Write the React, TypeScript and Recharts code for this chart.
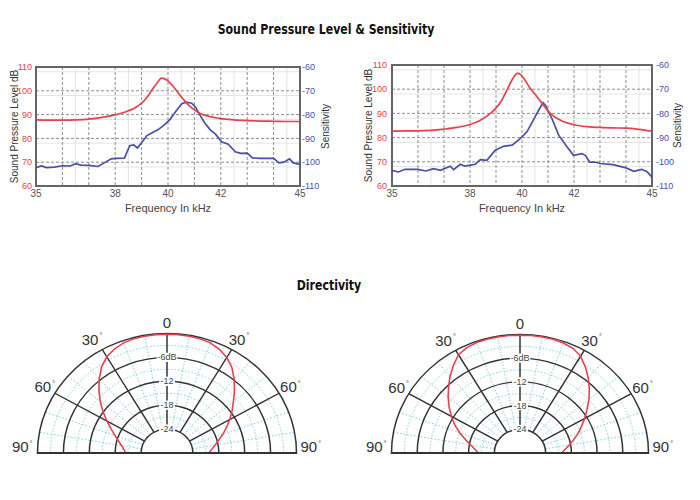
import React from 'react';
import {
  LineChart, Line, XAxis, YAxis, CartesianGrid, ReferenceArea,
  RadarChart, Radar, PolarGrid, PolarAngleAxis, PolarRadiusAxis,
} from 'recharts';

// ---------- Sound pressure level / sensitivity ----------
const freqTicks = [35, 38, 40, 42, 45];
const splTicks = [60, 70, 80, 90, 100, 110];
const sensTicks = [-110, -100, -90, -80, -70, -60];
const majorFreqGrid = [36, 37, 38, 39, 40, 41, 42, 43, 44];
const minorFreqGrid = [35.5, 36.5, 37.5, 38.5, 39.5, 40.5, 41.5, 42.5, 43.5, 44.5];
const majorSplGrid = [70, 80, 90, 100];
const minorSplGrid = [62, 64, 66, 68, 72, 74, 76, 78, 82, 84, 86, 88, 92, 94, 96, 98, 102, 104, 106, 108];

const spl1: [number, number][] = [
  [35, 87.8], [35.5, 87.7], [36, 87.7], [36.5, 87.8], [37, 88.1], [37.5, 88.8], [38, 89.9],
  [38.5, 91.6], [38.8, 93.2], [39, 94.8], [39.2, 97.2], [39.4, 100.5], [39.6, 103.5],
  [39.75, 105.3], [39.9, 104.9], [40, 104.2], [40.2, 101.8], [40.4, 99.0], [40.6, 96.2],
  [40.8, 93.8], [41, 92.0], [41.2, 90.6], [41.5, 89.4], [41.8, 88.7], [42, 88.3], [42.5, 87.8],
  [43, 87.5], [43.5, 87.3], [44, 87.2], [44.5, 87.1], [45, 87.1],
];
const sens1: [number, number][] = [
  [35, -102.3], [35.2, -101.6], [35.4, -102.3], [35.7, -102.1], [36, -101.5], [36.3, -101.6],
  [36.5, -100.6], [36.7, -101.2], [37, -101.3], [37.35, -101.8], [37.55, -100.5], [37.85, -98.6],
  [38, -98.4], [38.35, -98.3], [38.55, -93.1], [38.7, -92.7], [38.84, -94.0], [39, -91.8],
  [39.2, -88.8], [39.4, -87.6], [39.63, -86.3], [39.85, -84.4], [40.08, -82.0], [40.3, -78.6],
  [40.52, -75.4], [40.7, -74.8], [40.9, -75.2], [41.05, -77.0], [41.2, -80.0], [41.4, -83.6],
  [41.6, -86.4], [41.8, -88.2], [42.03, -91.4], [42.28, -92.4], [42.55, -95.6], [42.75, -96.3],
  [43, -96.2], [43.2, -98.2], [43.5, -98.4], [44, -98.4], [44.2, -100.3], [44.4, -100.0],
  [44.6, -98.6], [44.75, -100.3], [45, -100.9],
];
const spl2: [number, number][] = [
  [35, 82.7], [35.5, 82.8], [36, 82.8], [36.5, 83.0], [37, 83.5], [37.5, 84.2], [38, 85.4],
  [38.4, 87.2], [38.7, 89.3], [39, 92.2], [39.2, 95.0], [39.4, 99.2], [39.6, 103.5],
  [39.75, 106.0], [39.85, 106.5], [39.95, 106.0], [40.1, 104.0], [40.3, 100.6], [40.6, 96.6],
  [40.8, 93.8], [41, 91.0], [41.2, 89.0], [41.5, 87.1], [41.8, 85.9], [42.1, 85.1], [42.6, 84.4],
  [43, 84.2], [43.5, 84.0], [44, 83.9], [44.5, 83.4], [45, 82.7],
];
const sens2: [number, number][] = [
  [35, -103.5], [35.25, -104.2], [35.5, -103.1], [36, -103.1], [36.3, -103.8], [36.6, -102.8],
  [36.86, -103.5], [37.24, -101.8], [37.37, -103.2], [37.63, -101.0], [37.8, -101.8],
  [38.01, -101.4], [38.2, -101.0], [38.4, -99.1], [38.65, -99.4], [38.97, -95.2], [39.29, -93.6],
  [39.62, -93.1], [39.93, -90.4], [40.19, -87.6], [40.45, -82.5], [40.64, -78.7], [40.81, -75.6],
  [40.9, -76.6], [41.15, -82.1], [41.41, -89.0], [41.73, -93.8], [41.98, -97.3], [42.31, -96.6],
  [42.45, -97.5], [42.6, -100.1], [42.8, -100.1], [43, -100.7], [43.5, -101.2], [44, -102.5],
  [44.3, -103.9], [44.6, -103.1], [44.8, -104.0], [45, -106.3],
];

// ---------- Directivity ----------
const dirAngles = [-90, -85, -80, -75, -70, -65, -60, -55, -50, -45, -40, -35, -30, -25, -20, -15, -10, -5, 0,
  5, 10, 15, 20, 25, 30, 35, 40, 45, 50, 55, 60, 65, 70, 75, 80, 85, 90];
const dir1Db = [-20.4, -20.0, -19.3, -18.4, -17.2, -15.7, -13.9, -11.9, -9.8, -7.7, -5.6, -3.6, -2.1, -1.2,
  -0.6, -0.35, -0.25, -0.2, -0.2, -0.2, -0.25, -0.35, -0.6, -1.3, -2.3, -3.8, -5.8, -7.9, -9.9, -11.6,
  -13.2, -14.8, -16.2, -17.6, -18.7, -19.6, -20.3];
const dir2Db = [-20.3, -19.5, -18.3, -16.8, -15.0, -13.2, -11.5, -9.8, -8.1, -6.4, -4.6, -2.9, -1.3, -0.6,
  -0.3, -0.2, -0.2, -0.2, -0.2, -0.2, -0.2, -0.25, -0.4, -0.8, -1.7, -3.4, -5.2, -7.1, -9.0, -10.9,
  -12.6, -14.2, -15.6, -17.0, -18.3, -19.4, -20.3];
const angleTicks = [-90, -60, -30, 0, 30, 60, 90];
const minorAngleTicks = [-80, -70, -50, -40, -20, -10, 10, 20, 40, 50, 70, 80];
const ringTicks = [-24, -18, -12, -6, 0];
const minorRingTicks = [-21, -15, -9, -3];
const ringLabels: Record<number, string> = { [-24]: '-24', [-18]: '-18', [-12]: '-12', [-6]: '-6dB' };

const RED = '#e8404f';
const BLUE = '#4a4fa6';
const FONT = "'Liberation Sans', Arial, sans-serif";

type SplProps = {
  left: number; top: number; width: number; marginTop: number; plotH: number;
  leftW: number; rightW: number; leftTick: number; rightTick: number;
  leftLabelOff: number; rightLabelOff: number;
  spl: [number, number][]; sens: [number, number][];
};

function SplChart(p: SplProps) {
  const splData = p.spl.map(([f, v]) => ({ f, v }));
  const sensData = p.sens.map(([f, v]) => ({ f, v }));
  const xAxisH = 26;
  const height = p.marginTop + p.plotH + xAxisH + 2;
  return (
    <div style={{ position: 'absolute', left: p.left, top: p.top, fontFamily: FONT }}>
      <LineChart width={p.width} height={height} margin={{ top: p.marginTop, right: 0, left: 0, bottom: 2 }}>
        <CartesianGrid yAxisId="spl" horizontalValues={minorSplGrid} verticalValues={minorFreqGrid}
          stroke="#e4e4e4" strokeWidth={1} fill="none" />
        <CartesianGrid yAxisId="spl" horizontalValues={majorSplGrid} verticalValues={majorFreqGrid}
          stroke="#8f8f8f" strokeDasharray="3 2" strokeWidth={1} fill="none" />
        <XAxis type="number" dataKey="f" domain={[35, 45]} ticks={freqTicks} allowDataOverflow
          tickLine={false} axisLine={false} tickSize={3} tickMargin={1} height={xAxisH}
          tick={{ fontSize: 10, fill: '#555' }}
          label={{ value: 'Frequency In kHz', position: 'insideBottom', offset: 0, fontSize: 11, fill: '#444' }} />
        <YAxis yAxisId="spl" type="number" domain={[60, 110]} ticks={splTicks} allowDataOverflow
          width={p.leftW} tickLine={false} axisLine={false} tickSize={p.leftTick} tickMargin={1}
          tick={{ fontSize: 9, fill: RED }}
          label={{ value: 'Sound Pressure Level dB', angle: -90, position: 'insideLeft', offset: p.leftLabelOff,
            fontSize: 10, fill: '#333', style: { textAnchor: 'middle' } }} />
        <YAxis yAxisId="sens" orientation="right" type="number" domain={[-110, -60]} ticks={sensTicks}
          allowDataOverflow width={p.rightW} tickLine={false} axisLine={false} tickSize={p.rightTick} tickMargin={1}
          tick={{ fontSize: 9, fill: BLUE }}
          label={{ value: 'Sensitivity', angle: -90, position: 'insideRight', offset: p.rightLabelOff,
            fontSize: 10, fill: '#333', style: { textAnchor: 'middle' } }} />
        <ReferenceArea yAxisId="spl" x1={35} x2={45} y1={60} y2={110} fill="none" fillOpacity={0}
          stroke="#666" strokeWidth={2} />
        <Line yAxisId="sens" data={sensData} dataKey="v" type="linear" stroke={BLUE} strokeWidth={1.7}
          dot={false} isAnimationActive={false} />
        <Line yAxisId="spl" data={splData} dataKey="v" type="monotone" stroke={RED} strokeWidth={1.7}
          dot={false} isAnimationActive={false} />
      </LineChart>
    </div>
  );
}

// label offsets (pre-scale px) relative to the tick anchor
const renderAngleTick = (props: any) => {
  const { x, y, payload } = props;
  const v = payload.value as number;
  const abs = Math.abs(v);
  let anchor: 'start' | 'end' | 'middle' = 'middle';
  let dx = 0;
  let dy = 0;
  if (v === 0) { dy = 2; }
  else if (abs === 30) { anchor = v < 0 ? 'end' : 'start'; dx = v < 0 ? 4 : -7; dy = 2; }
  else if (abs === 60) { anchor = v < 0 ? 'end' : 'start'; dx = v < 0 ? 7 : -6; dy = 3; }
  else { anchor = v < 0 ? 'end' : 'start'; dx = v < 0 ? 3 : -4; dy = -1; }
  return (
    <text x={x + dx} y={y + dy} textAnchor={anchor} fontSize={15} fill="#333" fontFamily={FONT}>
      {abs}
      {v !== 0 ? <tspan fontSize={7} dx={1} dy={-7}>°</tspan> : null}
    </text>
  );
};

const renderRingTick = (props: any) => {
  const { x, y, payload } = props;
  const label = ringLabels[payload.value as number];
  if (!label) return <g />;
  const w = label.length * 4.6 + 2;
  return (
    <g>
      <rect x={x - w / 2} y={y - 5} width={w} height={10} fill="#fff" />
      <text x={x} y={y + 3.3} textAnchor="middle" fontSize={9} fill="#444" fontFamily={FONT}>{label}</text>
    </g>
  );
};

const W = 330;
const CY = 160;

function MinorGrid({ radius, data }: { radius: number; data: { a: number; v: number | null }[] }) {
  return (
    <RadarChart width={W} height={CY * 2} cx={W / 2} cy={CY} innerRadius={radius * 0.2} outerRadius={radius}
      startAngle={180} endAngle={0} data={data} margin={{ top: 0, right: 0, bottom: 0, left: 0 }}>
      <PolarGrid gridType="circle" stroke="#79cdd0" strokeDasharray="1.5 2" strokeWidth={1} />
      <PolarAngleAxis type="number" dataKey="a" domain={[-90, 90]} ticks={minorAngleTicks}
        tick={false} axisLine={false} tickLine={false} />
      <PolarRadiusAxis type="number" domain={[-24, 0]} ticks={minorRingTicks}
        tick={false} axisLine={false} tickLine={false} />
      <Radar dataKey="v" stroke="none" fill="none" fillOpacity={0} dot={false} isAnimationActive={false} />
    </RadarChart>
  );
}

function DirectivityChart({ cxPage, radius, values }: { cxPage: number; radius: number; values: number[] }) {
  const data: { a: number; v: number | null }[] = dirAngles.map((a, i) => ({ a, v: values[i] }));
  data.push({ a: 90, v: null });
  return (
    <div style={{ position: 'absolute', left: cxPage - W / 2, top: 453 - CY, width: W, height: CY + 1, overflow: 'hidden' }}>
      <div style={{ position: 'absolute', left: 0, top: 0, transform: 'scaleY(0.923)', transformOrigin: `0px ${CY}px` }}>
        <MinorGrid radius={radius} data={data} />
      </div>
      <div style={{ position: 'absolute', left: 0, top: 0, transform: 'scaleY(0.923)', transformOrigin: `0px ${CY}px` }}>
        <RadarChart width={W} height={CY * 2} cx={W / 2} cy={CY} innerRadius={radius * 0.2} outerRadius={radius}
          startAngle={180} endAngle={0} data={data} margin={{ top: 0, right: 0, bottom: 0, left: 0 }}>
          <PolarGrid gridType="circle" stroke="#333" strokeWidth={1.5} />
          <PolarAngleAxis type="number" dataKey="a" domain={[-90, 90]} ticks={angleTicks} tickSize={8}
            tickLine={false} axisLine={false} tick={renderAngleTick} />
          <PolarRadiusAxis angle={90} type="number" domain={[-24, 0]} ticks={ringTicks} axisLine={false}
            tickLine={false} tick={renderRingTick} />
          <Radar dataKey="v" stroke={RED} strokeWidth={1.6} fill="none" fillOpacity={0} dot={false}
            isAnimationActive={false} />
        </RadarChart>
      </div>
      <div style={{ position: 'absolute', left: W / 2 - radius, top: CY - 1, width: radius * 2, height: 2, background: '#333' }} />
    </div>
  );
}

export default function App() {
  const titleStyle: React.CSSProperties = {
    position: 'absolute', textAlign: 'center', fontFamily: "'Liberation Sans Narrow', 'DejaVu Sans Condensed', sans-serif",
    fontWeight: 900, fontSize: 14, lineHeight: '16px', color: '#111', transform: 'scaleX(0.87)',
  };
  return (
    <div style={{ position: 'absolute', left: 0, top: 0, width: 700, height: 500, background: '#fff', overflow: 'hidden' }}>
      <div style={{ ...titleStyle, left: 126, top: 21, width: 400 }}>Sound Pressure Level &amp; Sensitivity</div>
      <SplChart left={0} top={50} width={340} marginTop={17} plotH={119} leftW={36} rightW={40}
        leftTick={3} rightTick={1} leftLabelOff={14} rightLabelOff={15} spl={spl1} sens={sens1} />
      <SplChart left={350} top={50} width={342} marginTop={15} plotH={121} leftW={42} rightW={40}
        leftTick={4} rightTick={3} leftLabelOff={18} rightLabelOff={15} spl={spl2} sens={sens2} />
      <div style={{ ...titleStyle, left: 229, top: 277, width: 200 }}>Directivity</div>
      <DirectivityChart cxPage={167} radius={129.5} values={dir1Db} />
      <DirectivityChart cxPage={520} radius={128.5} values={dir2Db} />
    </div>
  );
}
